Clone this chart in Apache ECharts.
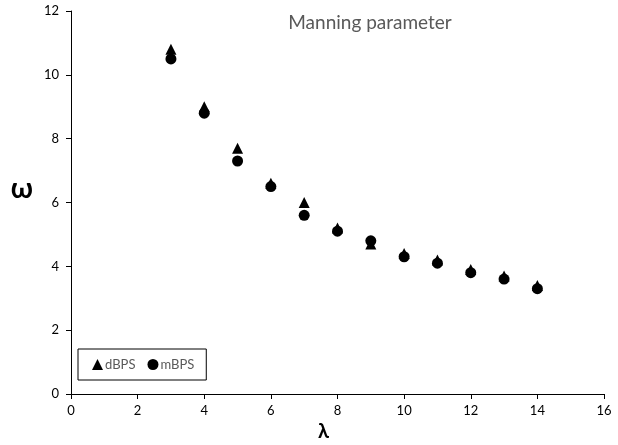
<!DOCTYPE html>
<html>
<head>
<meta charset="utf-8">
<script src="https://cdn.jsdelivr.net/npm/echarts@6/dist/echarts.min.js"></script>
<style>
html, body { margin: 0; padding: 0; background: #fff; }
#chart { width: 618px; height: 445px; }
</style>
</head>
<body>
<div id="chart"></div>
<script>
// lambda values
var lambdaVals = [3, 4, 5, 6, 7, 8, 9, 10, 11, 12, 13, 14];
// omega, dBPS (triangles)
var dBPS = [10.8, 9.0, 7.7, 6.6, 6.0, 5.2, 4.7, 4.4, 4.2, 3.9, 3.7, 3.4];
// omega, mBPS (circles)
var mBPS = [10.5, 8.8, 7.3, 6.5, 5.6, 5.1, 4.8, 4.3, 4.1, 3.8, 3.6, 3.3];

function pairs(xs, ys) {
    var out = [];
    for (var i = 0; i < xs.length; i++) {
        out.push([xs[i], ys[i]]);
    }
    return out;
}

var font = 'Lato';
var myChart = echarts.init(document.getElementById('chart'));
var option = {
    animation: false,
    backgroundColor: '#fff',
    title: {
        text: 'Manning parameter',
        left: 365,
        top: 8,
        textAlign: 'center',
        textStyle: { fontFamily: font, fontSize: 19, fontWeight: 'normal', color: '#595959' }
    },
    legend: {
        left: 78,
        top: 349,
        orient: 'horizontal',
        borderColor: '#000',
        borderWidth: 1,
        borderRadius: 0,
        padding: [9, 12, 9, 14],
        itemGap: 12,
        itemWidth: 11,
        itemHeight: 11,
        textStyle: { fontFamily: font, fontSize: 13, color: '#595959', padding: [0, 0, 0, -3] },
        data: [
            { name: 'dBPS', icon: 'triangle', itemStyle: { color: '#000', opacity: 1 } },
            { name: 'mBPS', icon: 'circle', itemStyle: { color: '#000', opacity: 1 } }
        ]
    },
    grid: { left: 71, right: 14, top: 11, bottom: 51, outerBoundsMode: 'none', containLabel: false },
    xAxis: {
        type: 'value',
        min: 0,
        max: 16,
        interval: 2,
        name: 'λ',
        nameLocation: 'middle',
        nameGap: 28,
        nameTextStyle: { fontFamily: font, fontSize: 20, fontWeight: 'bold', color: '#000', padding: [0, 28, 0, 0] },
        axisLine: { lineStyle: { color: '#000', width: 1 } },
        axisTick: { show: true, inside: false, length: 5, lineStyle: { color: '#000' } },
        axisLabel: { fontFamily: font, fontSize: 13, color: '#000', margin: 10 },
        splitLine: { show: false }
    },
    yAxis: {
        type: 'value',
        min: 0,
        max: 12,
        interval: 2,
        name: 'ω',
        nameLocation: 'middle',
        nameRotate: 0,
        nameGap: 38,
        nameTextStyle: { fontFamily: font, fontSize: 28, fontWeight: 'bold', color: '#000', verticalAlign: 'bottom' },
        axisLine: { show: true, lineStyle: { color: '#000', width: 1 } },
        axisTick: { show: true, inside: false, length: 5, lineStyle: { color: '#000' } },
        axisLabel: { fontFamily: font, fontSize: 13, color: '#000', margin: 12 },
        splitLine: { show: false }
    },
    series: [
        {
            name: 'dBPS',
            type: 'scatter',
            symbol: 'triangle',
            symbolSize: 11,
            itemStyle: { color: '#000', opacity: 1 },
            data: pairs(lambdaVals, dBPS)
        },
        {
            name: 'mBPS',
            type: 'scatter',
            symbol: 'circle',
            symbolSize: 11,
            itemStyle: { color: '#000', opacity: 1 },
            data: pairs(lambdaVals, mBPS)
        }
    ]
};
myChart.setOption(option);
</script>
</body>
</html>
